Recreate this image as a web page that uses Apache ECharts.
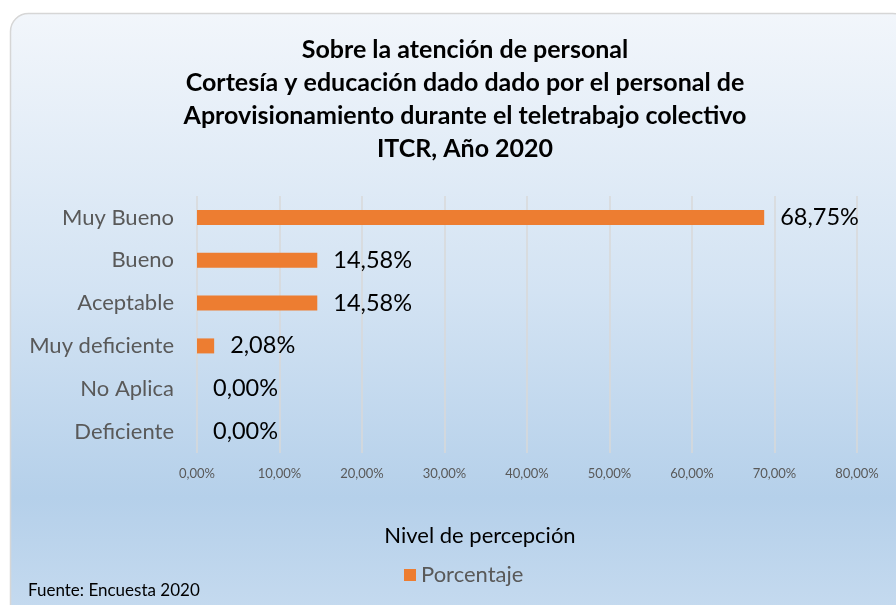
<!DOCTYPE html>
<html><head><meta charset="utf-8">
<style>html,body{margin:0;padding:0;background:#fff;}#c{width:896px;height:605px;}</style>
<script src="https://cdn.jsdelivr.net/npm/echarts@6/dist/echarts.min.js"></script>
</head><body><div id="c"></div>
<script>
const categories = ['Deficiente', 'No Aplica', 'Muy deficiente', 'Aceptable', 'Bueno', 'Muy Bueno'];
const porcentaje = [0.00, 0.00, 2.08, 14.58, 14.58, 68.75];
const titleLines = ['Sobre la atención de personal', 'Cortesía y educación dado dado por el personal de', 'Aprovisionamiento durante el teletrabajo colectivo', 'ITCR, Año 2020'];
const seriesName = 'Porcentaje';
const axisName = 'Nivel de percepción';
const sourceNote = 'Fuente: Encuesta 2020';

const fmt = v => v.toFixed(2).replace('.', ',') + '%';
const FONT = 'Lato';
const chart = echarts.init(document.getElementById('c'), null, {renderer: 'canvas'});
chart.setOption({
  animation: false,
  backgroundColor: '#ffffff',
  graphic: [
    {type: 'rect', z: -10, silent: true,
     shape: {x: 10.5, y: 13.5, width: 900, height: 620, r: 18},
     style: {
       fill: new echarts.graphic.LinearGradient(0, 0, 0, 1, [
         {offset: 0, color: '#f2f6fb'},
         {offset: 0.45, color: '#d3e3f3'},
         {offset: 0.78, color: '#b5d0ea'},
         {offset: 1, color: '#c8dcf0'}
       ]),
       stroke: '#d6d6d6', lineWidth: 1.5
     }},
    {type: 'text', left: 28, top: 582, z: 10,
     style: {text: sourceNote, font: '17px ' + FONT, fill: '#000'}},
    {type: 'text', x: 480, y: 536, z: 10,
     style: {text: axisName, font: '22px ' + FONT, fill: '#000', align: 'center', verticalAlign: 'middle'}}
  ],
  title: {
    text: titleLines.join('\n'),
    left: 460, top: 29, textAlign: 'center',
    textStyle: {fontFamily: FONT, fontWeight: 'bold', fontSize: 25, lineHeight: 32.7, color: '#000'}
  },
  legend: {
    data: [seriesName], left: 399, top: 559, itemWidth: 12, itemHeight: 12, icon: 'rect',
    textStyle: {fontFamily: FONT, fontSize: 22, color: '#595959'}
  },
  grid: {left: 197, right: 39, top: 196, bottom: 152, containLabel: false},
  xAxis: {
    type: 'value', min: 0, max: 80, interval: 10,
    axisLine: {show: false}, axisTick: {show: false},
    axisLabel: {formatter: v => fmt(v), fontFamily: FONT, fontSize: 13, color: '#595959', margin: 14},
    splitLine: {show: true, lineStyle: {color: '#d9d9d9', width: 1.5}}
  },
  yAxis: {
    type: 'category', data: categories,
    axisLine: {show: false}, axisTick: {show: false},
    axisLabel: {fontFamily: FONT, fontSize: 22, color: '#595959', margin: 23}
  },
  series: [{
    name: seriesName, type: 'bar', data: porcentaje, barWidth: 15,
    itemStyle: {color: '#ED7D31'},
    label: {show: true, position: 'right', distance: 16, formatter: p => fmt(p.value),
      fontFamily: FONT, fontSize: 23.5, color: '#000'}
  }]
});
</script></body></html>
